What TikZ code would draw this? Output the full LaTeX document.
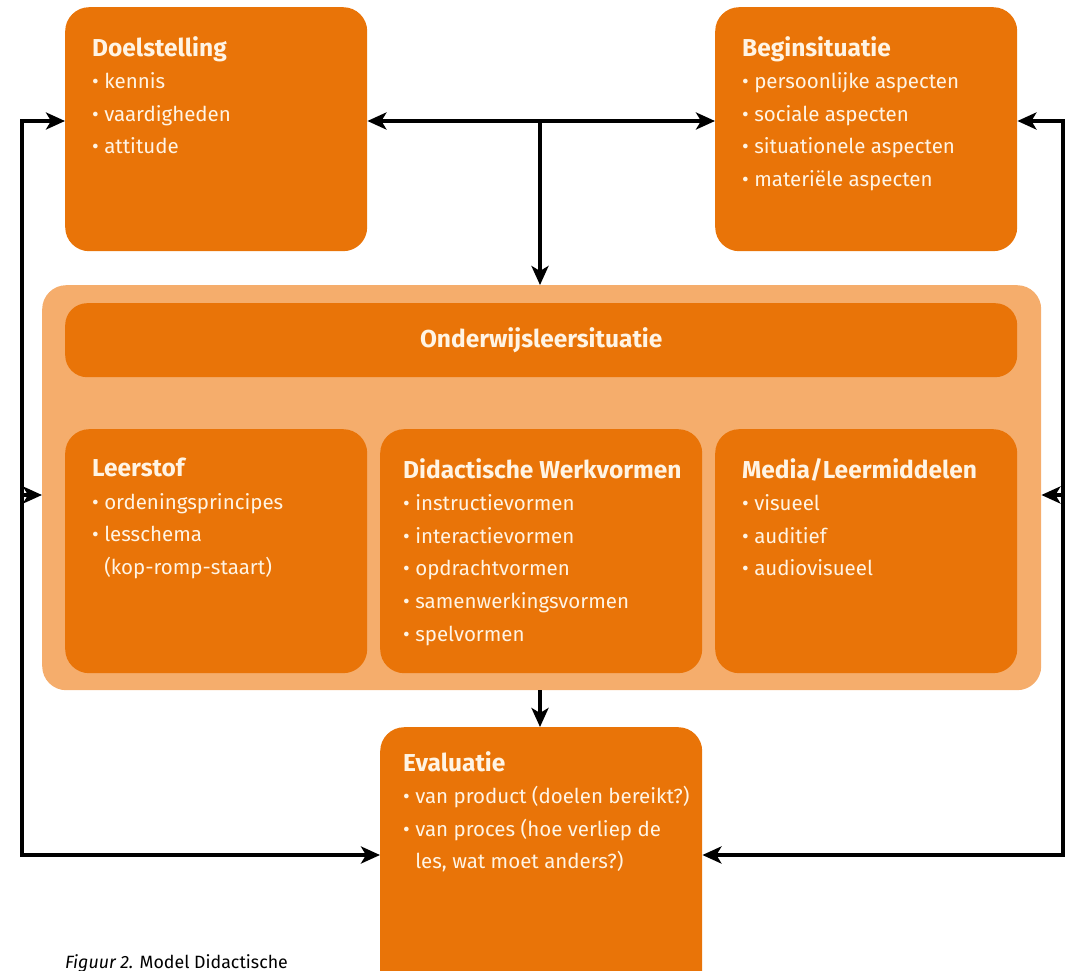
\documentclass[tikz,border=0pt]{standalone}
\usepackage{fontspec}
\setmainfont{Fira Sans}
\usetikzlibrary{arrows.meta,calc}
\definecolor{orangebox}{RGB}{233,116,8}
\definecolor{lightbox}{RGB}{245,173,108}
\definecolor{cream}{RGB}{255,244,228}
\tikzset{
  box/.style={fill=orangebox, rounded corners=24pt, inner sep=0pt, draw=none, anchor=north west},
  outerbox/.style={fill=lightbox, rounded corners=24pt, inner sep=0pt, draw=none, anchor=north west},
  txt/.style={text=cream, align=left, inner sep=0pt, anchor=north west, font=\fontsize{20.5}{32.6}\selectfont},
  hd/.style={text=cream, inner sep=0pt, font=\fontsize{24.5}{32.6}\selectfont\bfseries},
  conn/.style={line width=4pt, draw=black, line join=miter},
  tip/.style={-{Stealth[length=19pt,width=17pt,inset=5pt]}},
  tips/.style={{Stealth[length=19pt,width=17pt,inset=5pt]}-{Stealth[length=19pt,width=17pt,inset=5pt]}},
}
\newcommand{\hdl}[1]{{\fontsize{24.5}{30.8}\selectfont\bfseries #1}}
\newcommand{\itm}{\textbullet\ }
\begin{document}
\begin{tikzpicture}[x=1pt,y=-1pt]
\useasboundingbox (0,0) rectangle (1066,971);
\clip (0,0) rectangle (1066,971);
% boxes
\node[box, minimum width=302pt, minimum height=244pt] (doel) at (65,7) {};
\node[box, minimum width=302pt, minimum height=244pt] (begin) at (715,7) {};
\node[outerbox, minimum width=999pt, minimum height=405pt] (outer) at (42,285) {};
\node[box, minimum width=952pt, minimum height=74pt, rounded corners=22pt] (ols) at (65,303) {};
\node[box, minimum width=302pt, minimum height=244pt] (leer) at (65,429) {};
\node[box, minimum width=322pt, minimum height=244pt] (dida) at (380,429) {};
\node[box, minimum width=302pt, minimum height=244pt] (media) at (715,429) {};
\node[box, minimum width=322pt, minimum height=280pt] (eval) at (380,727) {};
% texts
\node[txt] (doelT) at ($(doel.north west)+(27,29)$) {\hdl{Doelstelling}\\ \itm kennis\\ \itm vaardigheden\\ \itm attitude};
\node[txt] (beginT) at ($(begin.north west)+(27,29)$) {\hdl{Beginsituatie}\\ \itm persoonlijke aspecten\\ \itm sociale aspecten\\ \itm situationele aspecten\\ \itm materiële aspecten};
\node[hd] (olsT) at (ols.center) {Onderwijsleersituatie};
\node[txt] (leerT) at ($(leer.north west)+(27,29)$) {\hdl{Leerstof}\\ \itm ordeningsprincipes\\ \itm lesschema\\ \phantom{\itm}(kop-romp-staart)};
\node[txt] (didaT) at ($(dida.north west)+(23,29)$) {\hdl{Didactische Werkvormen}\\ \itm instructievormen\\ \itm interactievormen\\ \itm opdrachtvormen\\ \itm samenwerkingsvormen\\ \itm spelvormen};
\node[txt] (mediaT) at ($(media.north west)+(27,29)$) {\hdl{Media/Leermiddelen}\\ \itm visueel\\ \itm auditief\\ \itm audiovisueel};
\node[txt] (evalT) at ($(eval.north west)+(23,24)$) {\hdl{Evaluatie}\\ \itm van product (doelen bereikt?)\\ \itm van proces (hoe verliep de\\ \phantom{\itm}les, wat moet anders?)};
\node[inner sep=0pt, anchor=base west, font=\fontsize{17.8}{22}\selectfont] (cap) at (65,968) {\textit{Figuur 2.} Model Didactische};
% connectors
\coordinate (tj) at (540,121);
\coordinate (L1) at (22,121);
\coordinate (L2) at (22,855);
\coordinate (R1) at (1063,121);
\coordinate (R2) at (1063,855);
\coordinate (LM) at (22,495);
\coordinate (RM) at (1063,495);
\draw[conn,tips] (doel.east |- tj) -- (begin.west |- tj);
\draw[conn,tip] (tj) -- (outer.north -| tj);
\draw[conn,tips] (doel.west |- L1) -- (L1) -- (L2) -- (eval.west |- L2);
\draw[conn,tips] (begin.east |- R1) -- (R1) -- (R2) -- (eval.east |- R2);
\draw[conn,tip] (LM) -- (outer.west |- LM);
\draw[conn,tip] (RM) -- (outer.east |- RM);
\draw[conn,tip] (outer.south -| tj) -- (eval.north -| tj);
\end{tikzpicture}
\end{document}
